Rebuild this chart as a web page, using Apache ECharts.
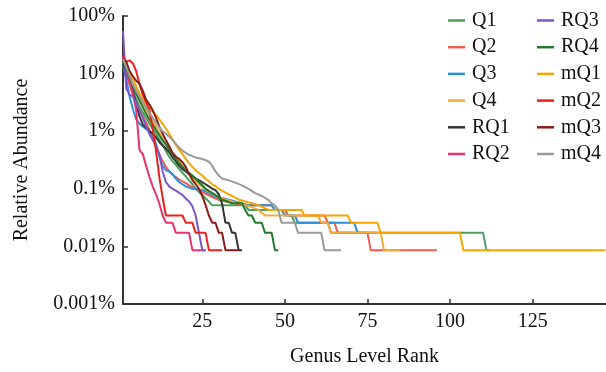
<!DOCTYPE html>
<html>
<head>
<meta charset="utf-8">
<script src="https://cdn.jsdelivr.net/npm/echarts@6/dist/echarts.min.js"></script>
<style>
  html, body { margin: 0; padding: 0; background: #fff; }
  #chart { width: 606px; height: 372px; }
</style>
</head>
<body>
<div id="chart"></div>
<script>
// series names and colours
const seriesNames = ['Q1', 'Q2', 'Q3', 'Q4', 'RQ1', 'RQ2', 'RQ3', 'RQ4', 'mQ1', 'mQ2', 'mQ3', 'mQ4'];
const seriesColors = ['#4b9e5e', '#eb5d4f', '#2b8fd6', '#f3a93c', '#333333', '#e8336d',
                      '#7d56c9', '#23782b', '#f5a600', '#e8231d', '#8a1b1b', '#9a9a9a'];

// x tick values and y tick labels
const xTicks = [25, 50, 75, 100, 125];
const yTickLabels = ['0.001%', '0.01%', '0.1%', '1%', '10%', '100%'];

// relative abundance (%) against genus rank, [rank, value] at each vertex
const q1 = [[1,15],[2,10],[3,7],[4,5],[5,3.6],[6,2.7],[7,2.1],[8,1.7],[9,1.35],[10,1.1],[11,0.9],[12,0.72],[13,0.58],[14,0.45],[15,0.36],[16,0.3],[17,0.26],[18,0.22],[19,0.19],[20,0.165],[21,0.14],[22,0.12],[23,0.1],[24,0.088],[25,0.078],[26,0.068],[27,0.06],[28,0.0516],[38,0.0516],[39,0.043],[50,0.043],[51,0.0344],[52,0.0344],[53,0.0258],[63,0.0258],[64,0.0172],[110,0.0172],[111,0.0086],[112,0.0086]];
const q2 = [[1,14],[2,10],[3,6.5],[4,4.2],[5,3],[6,2.3],[7,1.8],[8,1.4],[9,1.05],[10,0.8],[11,0.55],[12,0.4],[13,0.3],[14,0.24],[15,0.2],[16,0.175],[17,0.16],[18,0.145],[19,0.135],[20,0.125],[21,0.115],[22,0.107],[23,0.1],[24,0.094],[25,0.088],[26,0.082],[27,0.077],[28,0.072],[29,0.068],[30,0.064],[32,0.06],[35,0.056],[38,0.0516],[46,0.0516],[47,0.043],[50,0.043],[51,0.0344],[62,0.0344],[63,0.0258],[65,0.0258],[66,0.0172],[75,0.0172],[76,0.0086],[96,0.0086]];
const q3 = [[1,14],[2,8],[3,4],[4,2.4],[5,1.6],[6,1.35],[7,1.2],[8,1.1],[9,1.0],[10,0.9],[11,0.6],[12,0.36],[13,0.25],[14,0.21],[15,0.2],[16,0.18],[17,0.15],[18,0.13],[19,0.12],[20,0.11],[21,0.105],[22,0.1],[24,0.097],[25,0.095],[26,0.09],[27,0.084],[28,0.078],[29,0.073],[31,0.069],[35,0.06],[37,0.056],[39,0.0516],[46,0.0516],[47,0.043],[49,0.043],[50,0.0344],[53,0.0344],[54,0.0258],[71,0.0258],[72,0.0172],[78,0.0172]];
const q4 = [[1,16],[2,12],[3,9],[4,6.5],[5,5],[6,3.8],[7,3.0],[8,2.4],[9,1.9],[10,1.5],[11,1.2],[12,0.95],[13,0.75],[14,0.6],[15,0.5],[16,0.42],[17,0.36],[18,0.3],[19,0.25],[20,0.21],[21,0.18],[22,0.155],[23,0.135],[24,0.12],[25,0.107],[26,0.097],[27,0.09],[28,0.083],[29,0.077],[30,0.072],[32,0.065],[34,0.06],[36,0.056],[38,0.052],[40,0.048],[42,0.043],[44,0.0344],[60,0.0344],[61,0.0258],[63,0.0258],[64,0.0172],[79,0.0172],[80,0.0086],[85,0.0086]];
const rq1 = [[1,15],[2,10],[3,8],[4,5],[5,3],[6,1.8],[7,1.3],[8,1.15],[9,1.0],[10,0.9],[11,0.78],[12,0.65],[13,0.56],[14,0.5],[15,0.43],[16,0.35],[17,0.3],[18,0.25],[19,0.22],[20,0.2],[21,0.18],[22,0.165],[23,0.15],[24,0.14],[25,0.13],[26,0.12],[27,0.11],[28,0.1],[29,0.095],[30,0.08],[31,0.055],[32,0.0258],[33,0.0258],[34,0.0172],[35,0.0172],[36,0.0086],[37,0.0086]];
const rq2 = [[1,20],[2,11],[3,7],[4,4.5],[5,2.3],[6,0.47],[7,0.4],[8,0.25],[9,0.16],[10,0.11],[11,0.08],[12,0.055],[13,0.0344],[14,0.0258],[16,0.0258],[17,0.0172],[21,0.0172],[22,0.0086],[26,0.0086]];
const rq3 = [[1,55],[2,5.5],[3,4.3],[4,4.0],[5,3.0],[6,2.3],[7,1.7],[8,1.2],[9,0.9],[10,0.7],[11,0.55],[12,0.4],[13,0.2],[14,0.13],[15,0.11],[16,0.1],[17,0.093],[18,0.085],[19,0.078],[20,0.068],[21,0.06],[22,0.05],[23,0.0344],[24,0.0172],[25,0.0086],[26,0.0086]];
const rq4 = [[1,16],[2,12],[3,8.5],[4,6],[5,4.5],[6,3.4],[7,2.6],[8,2.0],[9,1.6],[10,1.3],[11,1.05],[12,0.85],[13,0.7],[14,0.58],[15,0.48],[16,0.4],[17,0.33],[18,0.28],[19,0.24],[20,0.21],[21,0.19],[22,0.17],[23,0.15],[24,0.13],[25,0.115],[26,0.1],[27,0.092],[28,0.085],[29,0.078],[30,0.07],[31,0.065],[32,0.062],[33,0.059],[34,0.056],[37,0.056],[38,0.043],[39,0.0344],[40,0.0344],[41,0.0258],[43,0.0258],[44,0.0172],[46,0.0172],[47,0.0086],[48,0.0086]];
const mq1 = [[1,18],[2,14],[3,11],[4,8],[5,6],[6,4.5],[7,3.6],[8,3],[9,2.5],[10,2.2],[11,1.9],[12,1.6],[13,1.35],[14,1.1],[15,0.9],[16,0.72],[17,0.58],[18,0.48],[19,0.4],[20,0.33],[21,0.28],[22,0.24],[23,0.21],[24,0.186],[25,0.17],[26,0.15],[27,0.135],[28,0.12],[29,0.11],[30,0.1],[31,0.093],[32,0.086],[33,0.08],[34,0.075],[35,0.07],[36,0.065],[38,0.06],[40,0.056],[42,0.052],[45,0.043],[55,0.043],[56,0.0344],[69,0.0344],[70,0.0258],[78,0.0258],[79,0.0172],[103,0.0172],[104,0.0086],[147,0.0086]];
const mq2 = [[1,20],[2,16],[3,17],[4,15],[5,11],[6,6.5],[7,4.3],[8,3.2],[9,2.3],[10,1.1],[11,0.45],[12,0.16],[13,0.07],[14,0.0344],[19,0.0344],[20,0.0258],[22,0.0258],[23,0.0172],[26,0.0172],[27,0.0086],[31,0.0086]];
const mq3 = [[1,18],[2,16],[3,11],[4,9],[5,7.5],[6,6.7],[7,5],[8,3.5],[9,2.9],[10,2.3],[11,1.7],[12,1.2],[13,0.9],[14,0.7],[15,0.55],[16,0.42],[17,0.36],[18,0.33],[19,0.29],[20,0.24],[21,0.18],[22,0.142],[23,0.12],[24,0.1],[25,0.075],[26,0.052],[27,0.0344],[28,0.0258],[29,0.0258],[30,0.0172],[31,0.0172],[32,0.0086],[36,0.0086]];
const mq4 = [[1,18],[2,13],[3,9],[4,6.5],[5,5],[6,4],[7,3.2],[8,2.6],[9,2.1],[10,1.7],[11,1.4],[12,1.15],[13,1.0],[14,0.9],[15,0.8],[16,0.7],[17,0.6],[18,0.52],[19,0.46],[20,0.42],[21,0.39],[22,0.37],[23,0.35],[24,0.34],[25,0.33],[26,0.316],[27,0.295],[28,0.25],[29,0.2],[30,0.17],[31,0.151],[33,0.14],[35,0.128],[37,0.115],[39,0.1],[41,0.084],[43,0.075],[45,0.064],[46,0.056],[47,0.0516],[48,0.043],[49,0.0258],[53,0.0258],[54,0.0172],[61,0.0172],[62,0.0086],[67,0.0086]];

const seriesData = [q1, q2, q3, q4, rq1, rq2, rq3, rq4, mq1, mq2, mq3, mq4];

const font = 'Liberation Serif';
const chart = echarts.init(document.getElementById('chart'), null, { renderer: 'canvas' });

const legendBase = {
  orient: 'vertical',
  top: 10.5,
  padding: 0,
  itemWidth: 17,
  itemHeight: 2.5,
  itemGap: 6.7,
  icon: 'rect',
  textStyle: { fontFamily: font, fontSize: 20, lineHeight: 20, color: '#111', padding: [0, 0, 0, 2] }
};

const option = {
  animation: false,
  color: seriesColors,
  grid: { left: 123, right: 0, top: 16, bottom: 68, containLabel: false, outerBoundsMode: 'none' },
  legend: [
    Object.assign({}, legendBase, { left: 448, data: seriesNames.slice(0, 6) }),
    Object.assign({}, legendBase, { left: 537, data: seriesNames.slice(6) })
  ],
  xAxis: {
    type: 'value',
    min: 1,
    max: 147.2,
    name: 'Genus Level Rank',
    nameLocation: 'middle',
    nameGap: 43,
    nameTextStyle: { fontFamily: font, fontSize: 20, color: '#111' },
    axisLine: { lineStyle: { color: '#333', width: 2 } },
    axisTick: { inside: true, length: 5, customValues: xTicks, lineStyle: { color: '#333', width: 1.5 } },
    axisLabel: { customValues: xTicks, margin: 8, fontFamily: font, fontSize: 20, color: '#111' },
    splitLine: { show: false }
  },
  yAxis: {
    type: 'log',
    logBase: 10,
    min: 0.001,
    max: 100,
    name: 'Relative Abundance',
    nameLocation: 'middle',
    nameGap: 91,
    nameTextStyle: { fontFamily: font, fontSize: 20, color: '#111' },
    axisLine: { show: true, lineStyle: { color: '#333', width: 2 } },
    axisTick: { show: true, inside: true, length: 5, lineStyle: { color: '#333', width: 1.5 } },
    axisLabel: {
      margin: 8, fontFamily: font, fontSize: 20, color: '#111',
      formatter: v => yTickLabels[Math.round(Math.log10(v)) + 3]
    },
    splitLine: { show: false }
  },
  series: seriesNames.map((name, i) => ({
    name: name,
    type: 'line',
    data: seriesData[i],
    showSymbol: false,
    symbol: 'none',
    lineStyle: { width: 2 },
    clip: true
  }))
};

chart.setOption(option);
</script>
</body>
</html>
